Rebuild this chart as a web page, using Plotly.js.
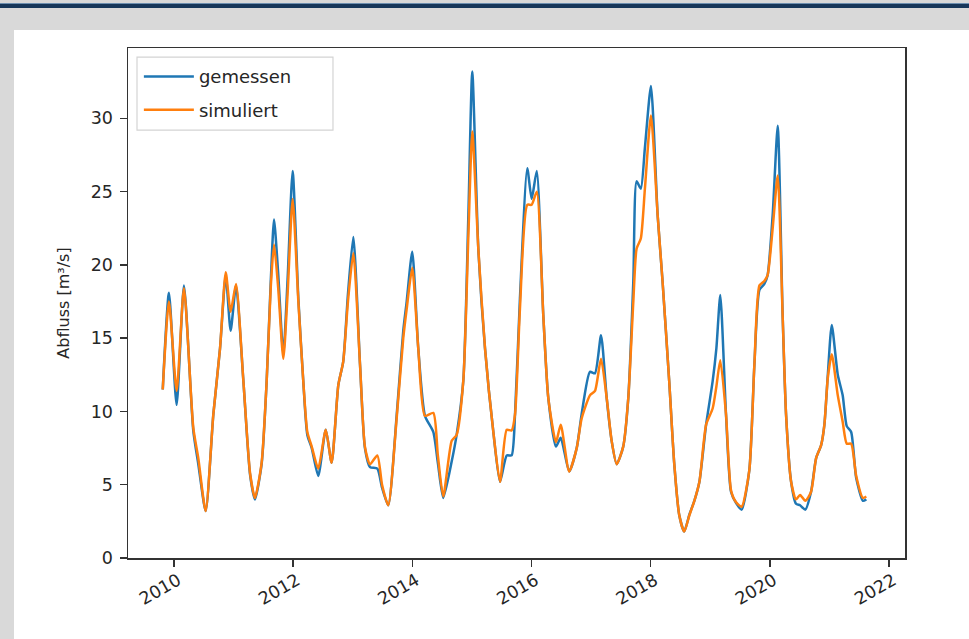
<!DOCTYPE html>
<html>
<head>
<meta charset="utf-8">
<script src="https://cdn.plot.ly/plotly-3.0.1.min.js"></script>
<style>
  html, body { margin:0; padding:0; width:969px; height:639px; overflow:hidden; background:#d9d9d9; }
  #topline { position:absolute; left:0; top:3px; width:969px; height:4px; background:#17375a; border-top:1px solid #6d8fb0; }
  #panel { position:absolute; left:14px; top:30px; width:955px; height:609px; background:#ffffff; }
  #chart { position:absolute; left:0; top:0; width:969px; height:639px; }
</style>
</head>
<body>
<div id="topline"></div>
<div id="panel"></div>
<div id="chart"></div>
<script>
// Dates of the readings
const dates = [
 '2009-10-24','2009-12-01','2010-01-17','2010-03-03','2010-04-29','2010-05-30','2010-07-14','2010-08-30',
 '2010-10-10','2010-11-14','2010-12-14','2011-01-16','2011-03-02','2011-04-12','2011-05-12','2011-06-22',
 '2011-07-23','2011-08-17','2011-09-06','2011-10-01','2011-11-02','2011-11-28','2011-12-29','2012-02-02',
 '2012-03-03','2012-03-28','2012-04-24','2012-06-03','2012-07-19','2012-08-24','2012-10-04','2012-11-03',
 '2012-12-02','2013-01-04','2013-02-14','2013-03-16','2013-04-16','2013-05-31','2013-06-29','2013-08-06',
 '2013-09-27','2013-11-06','2013-11-27','2013-12-31','2014-02-06','2014-03-19','2014-05-09','2014-06-06',
 '2014-07-09','2014-08-30','2014-09-29','2014-11-09','2014-12-10','2015-01-03','2015-02-09','2015-03-22',
 '2015-05-12','2015-06-22','2015-08-02','2015-09-01','2015-09-22','2015-10-22','2015-12-06','2016-01-02',
 '2016-02-02','2016-03-13','2016-04-13','2016-05-30','2016-06-28','2016-08-19','2016-10-04','2016-11-03',
 '2016-12-24','2017-01-24','2017-03-02','2017-04-06','2017-05-06','2017-06-06','2017-07-16','2017-08-16',
 '2017-09-16','2017-10-06','2017-11-01','2017-11-26','2018-01-02','2018-02-12','2018-03-14','2018-04-24',
 '2018-05-25','2018-06-24','2018-07-25','2018-08-25','2018-09-25','2018-10-26','2018-12-06','2019-01-15',
 '2019-02-07','2019-03-03','2019-04-07','2019-05-08','2019-06-08','2019-07-12','2019-08-28','2019-09-28',
 '2019-10-29','2019-11-28','2019-12-18','2020-01-18','2020-02-18','2020-03-19','2020-04-09','2020-05-10',
 '2020-06-09','2020-07-04','2020-08-05','2020-09-09','2020-10-10','2020-11-10','2020-11-30','2020-12-21',
 '2021-01-14','2021-02-20','2021-03-22','2021-04-16','2021-05-13','2021-06-13','2021-07-24','2021-08-14'
];
// Measured discharge (gemessen), m³/s
const gemessen = [
 11.5,18.1,10.45,18.6,8.7,6.4,3.2,9.8,
 14.3,19.3,15.5,18.6,12.1,5.7,4.0,6.4,
 12.1,18.9,23.1,19.5,13.9,19.0,26.4,17.7,
 12.1,8.4,7.5,5.6,8.75,6.5,11.8,13.4,
 18.0,21.9,13.2,7.5,6.2,6.1,4.8,3.6,
 9.8,15.5,17.5,20.9,14.3,9.7,8.6,6.5,
 4.1,6.6,8.4,12.1,23.4,33.2,21.1,14.3,
 8.6,5.2,7.0,7.0,9.8,17.7,26.6,24.5,
 26.4,16.6,10.9,7.6,8.2,5.9,7.5,9.8,
 12.7,12.6,15.2,10.9,8.0,6.4,7.6,10.9,
 18.9,25.7,25.2,28.0,32.2,23.4,18.9,12.05,
 6.4,2.95,1.8,2.95,3.9,5.2,9.1,12.05,
 14.3,17.95,9.8,4.5,3.75,3.3,6.0,13.2,
 18.3,18.7,19.3,23.4,29.5,16.6,9.8,5.2,
 3.7,3.6,3.3,4.5,6.8,7.7,9.1,12.5,
 15.9,12.5,11.1,9.0,8.6,5.45,3.9,4.0
];
// Simulated discharge (simuliert), m³/s
const simuliert = [
 11.5,17.5,11.4,18.4,8.9,6.8,3.2,9.8,
 14.3,19.5,16.8,18.7,12.1,5.8,4.1,6.5,
 12.1,18.5,21.4,18.5,13.6,18.0,24.5,17.5,
 12.1,8.6,7.6,6.1,8.75,6.5,11.8,13.4,
 17.5,20.8,13.2,7.6,6.4,7.0,5.0,3.6,
 9.6,15.0,17.0,19.8,14.3,9.7,9.9,7.0,
 4.2,8.0,8.4,12.1,22.0,29.1,21.1,14.3,
 8.6,5.2,8.75,8.7,9.8,17.0,24.1,24.1,
 25.0,16.6,10.9,7.9,9.1,5.9,7.5,9.5,
 11.1,11.4,13.6,10.9,8.0,6.4,7.6,10.9,
 17.5,21.1,21.8,25.2,30.2,23.4,18.9,12.05,
 6.4,2.95,1.8,2.9,3.9,5.2,9.1,10.2,
 11.7,13.5,9.8,4.6,3.8,3.5,6.0,13.2,
 18.6,18.9,19.3,22.5,26.1,16.6,9.8,5.2,
 4.0,4.3,3.9,4.5,6.8,7.7,9.1,12.3,
 13.9,11.1,9.3,7.8,7.8,5.6,4.1,4.2
];
const seriesNames = ['gemessen', 'simuliert'];
const yTickVals = [0, 5, 10, 15, 20, 25, 30];
const yTitle = 'Abfluss [m³/s]';

const lineShape = {shape: 'spline', smoothing: 0.6, width: 2.5};
const traces = [
  {x: dates, y: gemessen, name: seriesNames[0], legendgroup: 'g1', type: 'scatter', mode: 'lines',
   line: Object.assign({color: '#1f77b4'}, lineShape)},
  {x: dates, y: simuliert, name: seriesNames[1], legendgroup: 'g2', type: 'scatter', mode: 'lines',
   line: Object.assign({color: '#ff7f0e'}, lineShape)}
];

const fontFam = 'DejaVu Sans, sans-serif';
const txt = '#262626';
const layout = {
  width: 969, height: 639,
  paper_bgcolor: 'rgba(0,0,0,0)',
  plot_bgcolor: '#ffffff',
  margin: {l: 128, r: 64, t: 48, b: 81},
  font: {family: fontFam, color: txt, size: 17},
  showlegend: true,
  legend: {
    x: 0.014, y: 0.98, xanchor: 'left', yanchor: 'top',
    bgcolor: 'rgba(0,0,0,0)', borderwidth: 0,
    font: {family: fontFam, size: 18, color: txt},
    itemwidth: 50, tracegroupgap: 7, traceorder: 'grouped'
  },
  shapes: [{
    type: 'rect', xref: 'paper', yref: 'paper', layer: 'below',
    x0: 0.0116, x1: 0.2638, y0: 0.839, y1: 0.982,
    line: {color: '#d4d4d4', width: 1.2}, fillcolor: '#ffffff'
  }],
  xaxis: {
    type: 'date',
    range: ['2009-03-25', '2022-04-08'],
    tick0: '2010-01-01', dtick: 'M24', tickformat: '%Y',
    tickangle: -30,
    ticks: 'outside', ticklen: 7, tickwidth: 1.4, tickcolor: '#333',
    showline: true, linecolor: '#333', linewidth: 1.5, mirror: true,
    showgrid: false, zeroline: false,
    ticklabelshift: 4, ticklabelstandoff: -3,
    tickfont: {family: fontFam, size: 17.5, color: txt}
  },
  yaxis: {
    range: [0, 34.8],
    tickmode: 'array', tickvals: yTickVals,
    ticks: 'outside', ticklen: 7, tickwidth: 1.4, tickcolor: '#333',
    showline: true, linecolor: '#333', linewidth: 1.5, mirror: true,
    showgrid: false, zeroline: false,
    ticklabelstandoff: 3,
    tickfont: {family: fontFam, size: 17.5, color: txt},
    title: {text: yTitle, font: {family: fontFam, size: 16, color: txt}, standoff: 17}
  }
};

Plotly.newPlot('chart', traces, layout, {displayModeBar: false, staticPlot: true});
</script>
</body>
</html>
